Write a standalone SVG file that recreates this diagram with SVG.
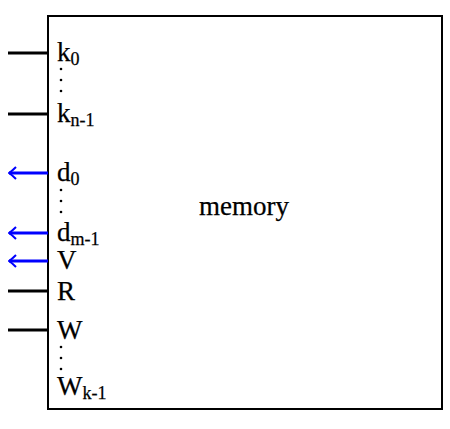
<svg xmlns="http://www.w3.org/2000/svg" width="450" height="429" viewBox="0 0 450 429">
<defs>
<style>
.t{font-family:"Liberation Serif","DejaVu Serif",serif;font-size:27px;fill:#000;stroke:#000;stroke-width:0.25}
.s{font-size:18px}
.bl{stroke:#000;stroke-width:2.8;fill:none}
.bu{stroke:#0000ff;stroke-width:2.8;fill:none}
.dot{fill:#000}
</style>
<marker id="ah" viewBox="0 0 10 14" refX="1" refY="7" markerWidth="10" markerHeight="14" markerUnits="userSpaceOnUse" orient="auto">
<path d="M8,1 Q4,5 1,7 Q4,9 8,13" fill="none" stroke="#0000ff" stroke-width="2"/>
</marker>
</defs>
<rect width="450" height="429" fill="#fff"/>
<g id="memory">
<rect x="48" y="16" width="394" height="393" fill="none" stroke="#000" stroke-width="2"/>
<text class="t" x="244" y="215" text-anchor="middle">memory</text>
</g>
<g id="connectors">
<line class="bl" x1="8" y1="53" x2="48" y2="53"/>
<line class="bl" x1="8" y1="114" x2="48" y2="114"/>
<line class="bu" x1="9" y1="173" x2="48" y2="173" marker-start="url(#ah)"/>
<line class="bu" x1="9" y1="233" x2="48" y2="233" marker-start="url(#ah)"/>
<line class="bu" x1="9" y1="261" x2="48" y2="261" marker-start="url(#ah)"/>
<line class="bl" x1="8" y1="291" x2="48" y2="291"/>
<line class="bl" x1="8" y1="330" x2="48" y2="330"/>
</g>
<g id="port-k0"><text class="t" x="57" y="61">k<tspan class="s" dy="4">0</tspan></text></g>
<g id="dots-k"><circle class="dot" cx="61" cy="69" r="1.3"/><circle class="dot" cx="61" cy="80" r="1.3"/><circle class="dot" cx="61" cy="91" r="1.3"/></g>
<g id="port-kn1"><text class="t" x="57" y="122">k<tspan class="s" dy="4">n-1</tspan></text></g>
<g id="port-d0"><text class="t" x="57" y="181">d<tspan class="s" dy="4">0</tspan></text></g>
<g id="dots-d"><circle class="dot" cx="61" cy="190" r="1.3"/><circle class="dot" cx="61" cy="201" r="1.3"/><circle class="dot" cx="61" cy="212" r="1.3"/></g>
<g id="port-dm1"><text class="t" x="57" y="241">d<tspan class="s" dy="4">m-1</tspan></text></g>
<g id="port-V"><text class="t" x="57" y="269">V</text></g>
<g id="port-R"><text class="t" x="57" y="300">R</text></g>
<g id="port-W"><text class="t" x="57" y="339">W</text></g>
<g id="dots-W"><circle class="dot" cx="61" cy="347" r="1.3"/><circle class="dot" cx="61" cy="358" r="1.3"/><circle class="dot" cx="61" cy="369" r="1.3"/></g>
<g id="port-Wk1"><text class="t" x="57" y="395">W<tspan class="s" dy="4">k-1</tspan></text></g>
</svg>
